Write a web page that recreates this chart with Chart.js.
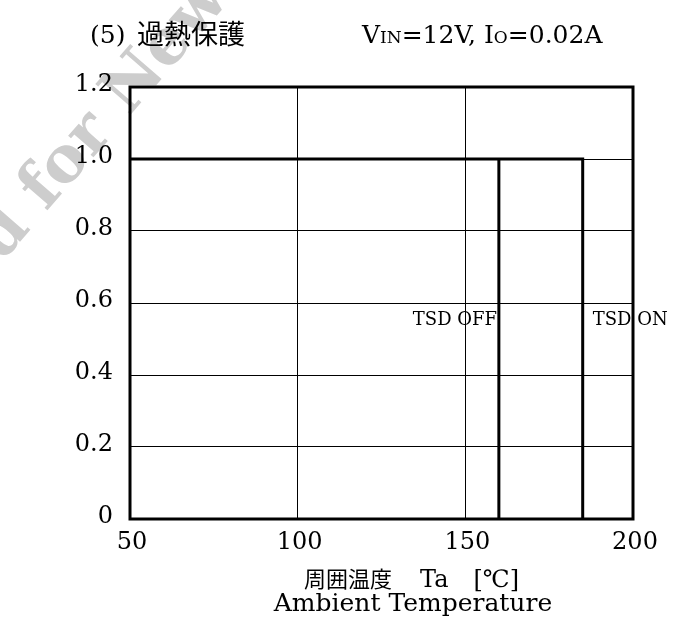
<!DOCTYPE html>
<html>
<head>
<meta charset="utf-8">
<script src="https://cdn.jsdelivr.net/npm/chart.js@4"></script>
<style>
  html, body { margin: 0; padding: 0; background: #fff; }
  #wrap { width: 677px; height: 631px; }
</style>
</head>
<body>
<div id="wrap"><canvas id="tsdChart"></canvas></div>
<script>
// output (normalised) vs ambient temperature, thermal shutdown hysteresis
var tempOn = [50, 185, 185];
var outOn = [1.0, 1.0, 0];
var tempOff = [160, 160];
var outOff = [0, 1.0];
var xTicks = [50, 100, 150, 200];
var yTicks = [0, 0.2, 0.4, 0.6, 0.8, 1.0, 1.2];
var tsdLabels = [
  { text: 'TSD OFF', x: 160, y: 0.6, dx: -86 },
  { text: 'TSD ON', x: 185, y: 0.6, dx: 10 }
];

var serif = '"DejaVu Serif", "Liberation Serif", serif';
var jp = '"Noto Sans CJK JP", "Noto Sans", sans-serif';

function toPoints(xs, ys) {
  return xs.map(function(x, i) { return { x: x, y: ys[i] }; });
}

var decor = {
  id: 'decor',
  beforeDraw: function(chart) {
    var ctx = chart.ctx;
    // faint diagonal watermark
    ctx.save();
    ctx.fillStyle = '#cdcdcd';
    ctx.font = 'bold 64px ' + serif;
    ctx.translate(46, 212);
    ctx.rotate(-49 * Math.PI / 180);
    var lead = ctx.measureText('Not Recommended ').width;
    ctx.fillText('Not Recommended for New Design', -lead, 0);
    ctx.restore();
  },
  afterDraw: function(chart) {
    var ctx = chart.ctx;
    var a = chart.chartArea;
    var xs = chart.scales.x, ys = chart.scales.y;
    ctx.save();
    // frame
    ctx.strokeStyle = '#000';
    ctx.lineWidth = 3;
    ctx.strokeRect(a.left, a.top, a.right - a.left, a.bottom - a.top);

    // heading
    ctx.fillStyle = '#000';
    ctx.textBaseline = 'alphabetic';
    ctx.textAlign = 'left';
    ctx.font = '25px ' + serif;
    ctx.fillText('(5)', 90, 43);
    ctx.font = '27px ' + jp;
    ctx.fillText('過熱保護', 137, 44);
    var hx = 362;
    var parts = [
      ['V', 25], ['IN', 17], ['=12V, I', 25], ['O', 17], ['=0.02A', 25]
    ];
    parts.forEach(function(p) {
      ctx.font = p[1] + 'px ' + serif;
      ctx.fillText(p[0], hx, 43);
      hx += ctx.measureText(p[0]).width;
    });

    // shutdown labels
    ctx.font = '18px ' + serif;
    tsdLabels.forEach(function(l) {
      var px = xs.getPixelForValue(l.x);
      var py = ys.getPixelForValue(l.y);
      ctx.fillText(l.text, px + l.dx, py + 22);
    });

    // axis title
    ctx.font = '22px ' + jp;
    ctx.fillText('周囲温度', 304, 587);
    ctx.font = '24px ' + serif;
    ctx.fillText('Ta', 420, 587);
    ctx.textAlign = 'right';
    ctx.fillText('[℃]', 519, 587);
    ctx.textAlign = 'center';
    ctx.font = '25px ' + serif;
    ctx.fillText('Ambient Temperature', 413, 611);
    ctx.restore();
  }
};

var ctx = document.getElementById('tsdChart').getContext('2d');
var chart = new Chart(ctx, {
  type: 'scatter',
  data: {
    datasets: [
      {
        label: 'TSD ON',
        data: toPoints(tempOn, outOn),
        showLine: true,
        borderColor: '#000',
        borderWidth: 3,
        pointRadius: 0,
        tension: 0
      },
      {
        label: 'TSD OFF',
        data: toPoints(tempOff, outOff),
        showLine: true,
        borderColor: '#000',
        borderWidth: 3,
        pointRadius: 0,
        tension: 0
      }
    ]
  },
  options: {
    responsive: true,
    maintainAspectRatio: false,
    animation: false,
    layout: { padding: { top: 87, right: 44, left: 0, bottom: 0 } },
    plugins: {
      legend: { display: false },
      tooltip: { enabled: false }
    },
    scales: {
      x: {
        type: 'linear',
        min: 50,
        max: 200,
        afterFit: function(s) { s.height = 112; },
        afterBuildTicks: function(s) { s.ticks = xTicks.map(function(v) { return { value: v }; }); },
        grid: { color: '#000', lineWidth: 1, drawTicks: false },
        border: { display: false },
        ticks: {
          color: '#000',
          padding: 9,
          labelOffset: 2,
          font: { family: serif, size: 24 },
          maxRotation: 0
        }
      },
      y: {
        type: 'linear',
        min: 0,
        max: 1.2,
        afterFit: function(s) { s.width = 130; },
        afterBuildTicks: function(s) { s.ticks = yTicks.map(function(v) { return { value: v }; }); },
        grid: { color: '#000', lineWidth: 1, drawTicks: false },
        border: { display: false },
        ticks: {
          color: '#000',
          padding: 17,
          labelOffset: -2,
          font: { family: serif, size: 24 },
          callback: function(v) { return v === 0 ? '0' : v.toFixed(1); }
        }
      }
    }
  },
  plugins: [decor]
});
</script>
</body>
</html>
